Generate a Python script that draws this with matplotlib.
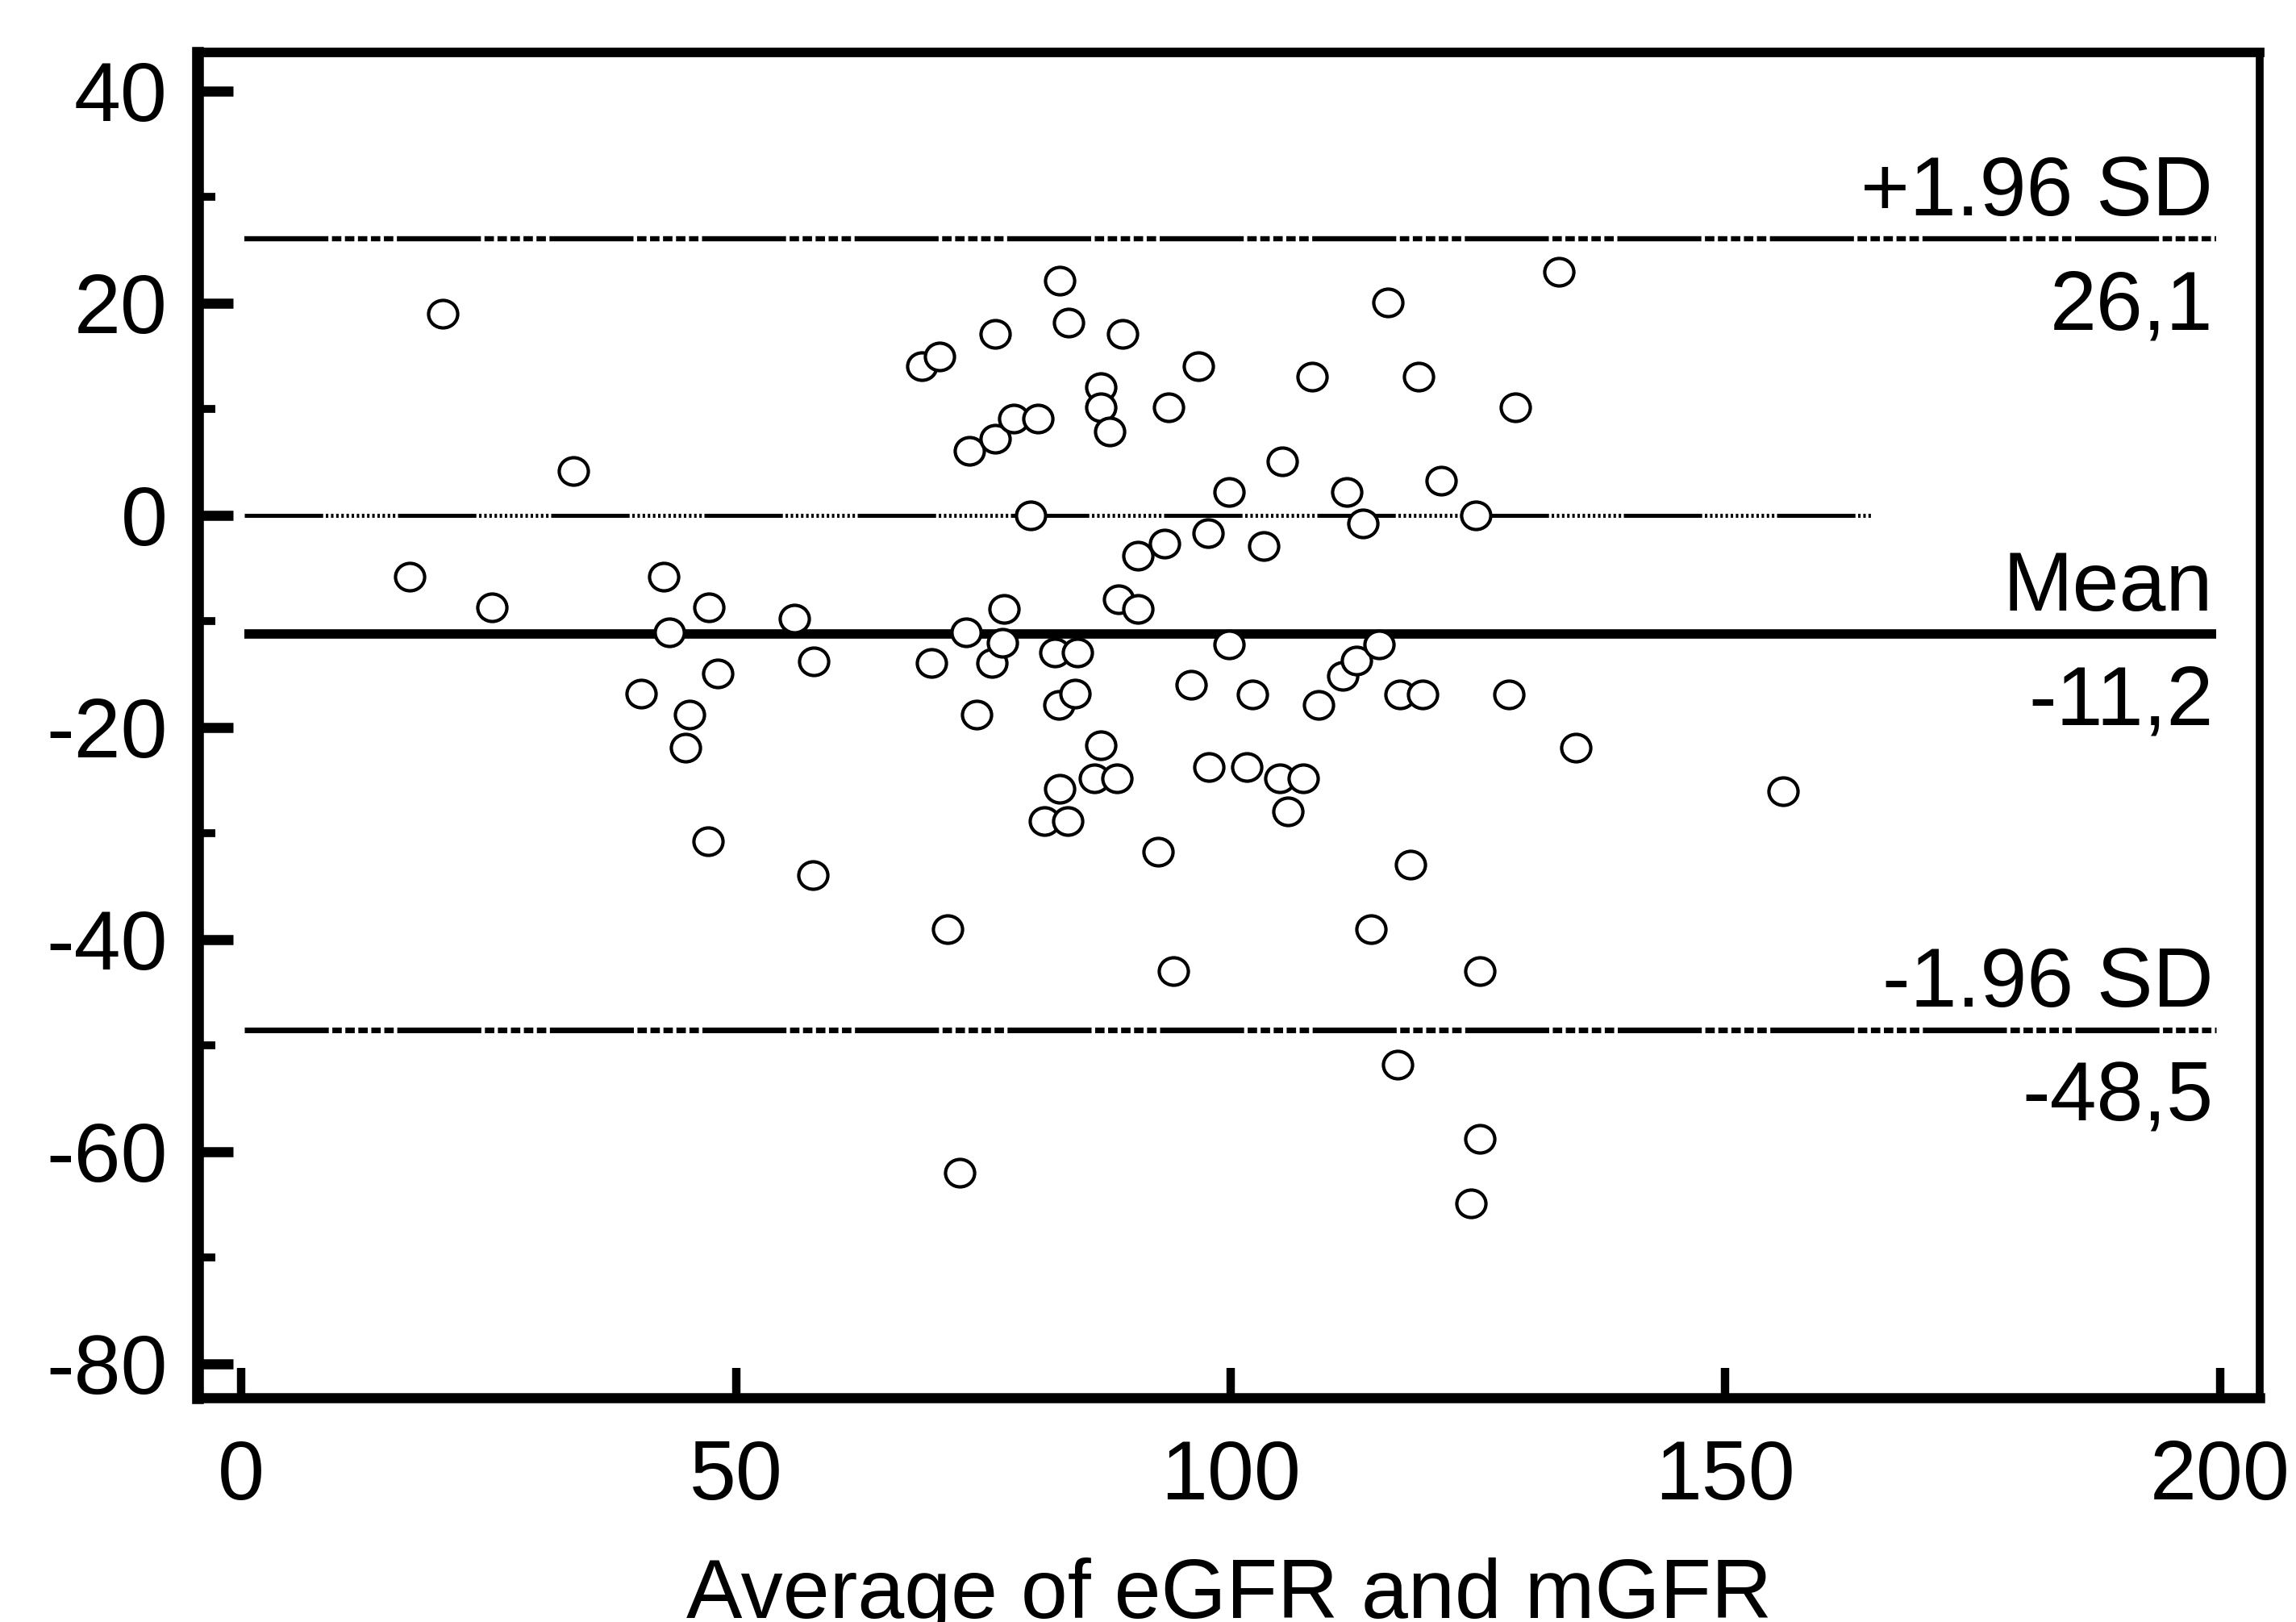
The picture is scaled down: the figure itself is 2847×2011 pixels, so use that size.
import matplotlib
matplotlib.use("Agg")
import matplotlib.pyplot as plt
from matplotlib.path import Path
from matplotlib.transforms import Affine2D

# average of eGFR and mGFR (x) and difference (y)
avg_gfr = [17.0, 20.4, 25.3, 33.6, 40.4, 42.7, 43.3, 44.9, 45.3, 47.3,
           47.2, 48.2, 55.9, 57.9, 57.8, 68.8, 70.6, 69.8, 71.4, 72.6,
           73.3, 73.6, 74.3, 76.2, 76.2, 75.9, 76.9, 77.1, 78.1, 79.8,
           80.5, 81.2, 82.2, 82.7, 82.6, 82.7, 83.5, 83.6, 84.5, 84.3,
           86.2, 86.9, 86.9, 86.9, 87.8, 88.5, 88.7, 89.1, 90.6, 90.6,
           92.7, 93.3, 93.7, 94.2, 96.0, 96.7, 97.7, 97.8, 99.8, 99.8,
           101.6, 102.2, 103.3, 105.2, 105.0, 105.8, 107.3, 108.2, 108.9, 111.3,
           111.7, 112.7, 113.4, 114.2, 115.0, 115.9, 116.9, 117.1, 118.2, 119.4,
           119.0, 121.3, 124.3, 124.8, 125.2, 125.2, 128.1, 128.8, 133.2, 134.9,
           155.8]
diff_gfr = [-5.8, 19.0, -8.7, 4.2, -16.8, -5.8, -11.0, -21.9, -18.8, -8.7,
            -30.7, -14.9, -9.7, -13.8, -33.9, 14.1, 15.0, -13.9, -39.0, -62.0,
            -11.0, 6.1, -18.8, 17.1, 7.2, -13.9, -12.0, -8.8, 9.1, 0.0,
            9.1, -28.8, -12.9, 22.1, -17.9, -25.8, -28.8, 18.2, -12.9, -16.8,
            -24.8, 12.1, 10.2, -21.7, 7.9, -24.8, -7.9, 17.1, -8.8, -3.8,
            -31.7, -2.7, 10.2, -43.0, -16.0, 14.1, -1.7, -23.7, 2.2, -12.2,
            -23.7, -16.9, -2.9, 5.1, -24.8, -27.9, -24.8, 13.1, -17.9, -15.1,
            2.2, -13.7, -0.8, -39.0, -12.2, 20.1, -51.8, -16.9, -32.9, -16.9,
            13.1, 3.3, -64.9, 0.0, -43.0, -58.8, -16.9, 10.2, 23.0, -21.9,
            -26.0]

mean_diff = -11.2
upper_loa = 26.1
lower_loa = -48.5
ref_labels = ["+1.96 SD", "Mean", "-1.96 SD"]
ref_values_txt = ["26,1", "-11,2", "-48,5"]

x_ticks = [0, 50, 100, 150, 200]
y_ticks = [-80, -60, -40, -20, 0, 20, 40]
y_minor = [-70, -50, -30, -10, 10, 30]

plt.rcParams['font.family'] = ['Liberation Sans', 'DejaVu Sans']
plt.rcParams['lines.scale_dashes'] = False
plt.rcParams['axes.unicode_minus'] = False

FS = 75

fig = plt.figure(figsize=(28.47, 20.11), dpi=100)
ax = fig.add_axes([0.0861, 0.1382, 0.9842 - 0.0861, 0.9677 - 0.1382])

# slightly wide ellipse, like the circles in the original
ring = Affine2D().scale(1.06, 1.0).transform_path(Path.unit_circle())
ax.plot(avg_gfr, diff_gfr, linestyle='none', marker=ring, markersize=26,
        markerfacecolor='white', markeredgecolor='black', markeredgewidth=3.0,
        zorder=3)

sd_dash = [75, 3.2] + [8.4, 3.2] * 5
zero_dash = [70, 2.4] + [2.2, 2.4] * 14

l1, = ax.plot([0.3, 199.6], [upper_loa, upper_loa], color='black', lw=4.6,
              dash_capstyle='butt')
l1.set_dashes(sd_dash)
l2, = ax.plot([0.3, 199.6], [lower_loa, lower_loa], color='black', lw=5.0,
              dash_capstyle='butt')
l2.set_dashes(sd_dash)
l0, = ax.plot([0.3, 164.7], [0, 0], color='black', lw=3.6,
              dash_capstyle='butt')
l0.set_dashes(zero_dash)
ax.plot([0.3, 199.6], [mean_diff, mean_diff], color='black', lw=8.4,
        solid_capstyle='butt')

for name, val, txt in zip(ref_labels, [upper_loa, mean_diff, lower_loa], ref_values_txt):
    ax.annotate(name, (199.3, val), xytext=(0, 21), textcoords='offset points',
                ha='right', va='baseline', fontsize=FS)
    ax.annotate(txt, (199.3, val), xytext=(0, -27), textcoords='offset points',
                ha='right', va='top', fontsize=FS)

ax.set_xlim(-4.4, 204.0)
ax.set_ylim(-83.2, 43.65)
ax.set_xticks(x_ticks)
ax.set_yticks(y_ticks)
ax.set_yticks(y_minor, minor=True)
ax.tick_params(axis='y', which='major', direction='in', length=32, width=9,
               pad=27, labelsize=FS)
ax.tick_params(axis='y', which='minor', direction='in', length=16, width=7)
ax.tick_params(axis='x', which='major', direction='in', length=27, width=7.5,
               pad=37, labelsize=FS)
ax.tick_params(axis='x', which='minor', bottom=False)

for side, w in [('left', 10.5), ('bottom', 9), ('top', 8.5), ('right', 7)]:
    ax.spines[side].set_linewidth(w)

ax.set_xlabel('Average of eGFR and mGFR', fontsize=FS, labelpad=36)

fig.savefig('out.png', dpi=100)
